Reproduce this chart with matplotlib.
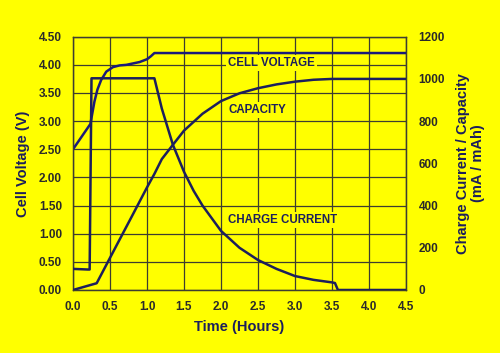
import matplotlib
matplotlib.use("Agg")
import matplotlib.pyplot as plt

# Data
volt_t = [0.0, 0.235, 0.29, 0.33, 0.38, 0.45, 0.54, 0.63, 0.72, 0.9, 1.0, 1.05, 1.1, 4.5]
volt_v = [2.50, 2.95, 3.35, 3.56, 3.73, 3.88, 3.96, 3.99, 4.00, 4.05, 4.10, 4.15, 4.21, 4.21]

curr_t = [0.0, 0.20, 0.225, 0.25, 1.1, 1.2, 1.35, 1.5, 1.63, 1.75, 2.0, 2.25, 2.5, 2.75, 3.0, 3.25, 3.5, 3.54, 3.58, 4.5]
curr_ma = [100, 97, 97, 1003, 1003, 860, 688, 560, 470, 400, 280, 200, 142, 100, 66, 48, 36, 33, 0, 0]

cap_t = [0.0, 0.32, 0.6, 0.8, 1.0, 1.1, 1.2, 1.35, 1.5, 1.75, 2.0, 2.25, 2.5, 2.75, 3.0, 3.25, 3.5, 4.5]
cap_mah = [0, 32, 219, 352, 486, 550, 620, 688, 755, 835, 895, 932, 956, 974, 987, 996, 1000, 1000]

x_ticks = [0.0, 0.5, 1.0, 1.5, 2.0, 2.5, 3.0, 3.5, 4.0, 4.5]
y_ticks = [0.0, 0.5, 1.0, 1.5, 2.0, 2.5, 3.0, 3.5, 4.0, 4.5]
y2_ticks = [0, 200, 400, 600, 800, 1000, 1200]

BG = "#ffff00"
NAVY = "#1c1f5c"
VBLUE = "#1a1a7a"
GRID = "#3d3d30"
TICK = "#2a2a2a"

plt.rcParams['font.family'] = ['Liberation Sans', 'DejaVu Sans']

fig = plt.figure(figsize=(5.0, 3.53), dpi=100, facecolor=BG)
ax = fig.add_axes([0.146, 0.1785, 0.666, 0.7175])
ax.set_facecolor(BG)
ax2 = ax.twinx()

ax.set_xlim(0, 4.5)
ax.set_ylim(0, 4.5)
ax2.set_ylim(0, 1200)

ax.set_xticks(x_ticks)
ax.set_xticklabels([f"{v:.1f}" for v in x_ticks])
ax.set_yticks(y_ticks)
ax.set_yticklabels([f"{v:.2f}" for v in y_ticks])
ax2.set_yticks(y2_ticks)
ax2.set_yticklabels([str(v) for v in y2_ticks])

ax.grid(True, color=GRID, linewidth=0.9)
ax.set_axisbelow(True)
for a in (ax, ax2):
    for s in a.spines.values():
        s.set_color(GRID)
        s.set_linewidth(0.9)
    a.tick_params(length=0, labelsize=8.5, labelcolor=TICK)
ax.tick_params(axis='x', pad=8)
ax.tick_params(axis='y', pad=8)
ax2.tick_params(axis='y', pad=9)
for lab in ax.get_xticklabels() + ax.get_yticklabels() + ax2.get_yticklabels():
    lab.set_fontweight('bold')

ax.plot(volt_t, volt_v, color=VBLUE, linewidth=1.8, zorder=3)
ax2.plot(curr_t, curr_ma, color=NAVY, linewidth=1.8, zorder=3)
ax2.plot(cap_t, cap_mah, color=NAVY, linewidth=1.8, zorder=3)

ax.set_xlabel("Time (Hours)", fontsize=10.5, fontweight='bold', color=NAVY, labelpad=5)
ax.set_ylabel("Cell Voltage (V)", fontsize=10.5, fontweight='bold', color=NAVY, labelpad=6)
ax2.set_ylabel("Charge Current / Capacity\n(mA / mAh)", fontsize=10.5, fontweight='bold',
               color=NAVY, labelpad=8, linespacing=1.1)

box = dict(facecolor=BG, edgecolor='none', pad=1.5)
ax.text(2.68, 4.03, "CELL VOLTAGE", fontsize=8.3, fontweight='bold', color=NAVY,
        ha='center', va='center', bbox=box, zorder=4)
ax.text(2.1, 3.2, "CAPACITY", fontsize=8.3, fontweight='bold', color=NAVY,
        ha='left', va='center', bbox=box, zorder=4)
ax.text(2.1, 1.24, "CHARGE CURRENT", fontsize=8.3, fontweight='bold', color=NAVY,
        ha='left', va='center', bbox=box, zorder=4)

fig.savefig("out.png", dpi=100, facecolor=BG)
